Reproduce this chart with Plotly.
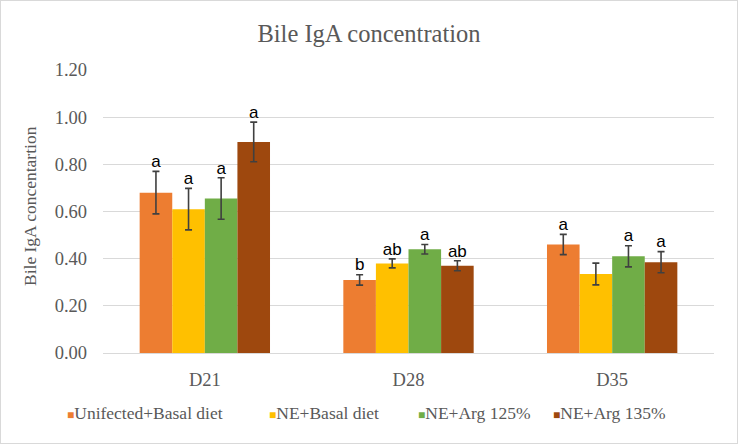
import plotly.graph_objects as go

# data
days = ["D21", "D28", "D35"]
groups = ["Unifected+Basal diet", "NE+Basal diet", "NE+Arg 125%", "NE+Arg 135%"]
colors = ["#ED7D31", "#FFC000", "#70AD47", "#9E480E"]

unifected = [0.68, 0.31, 0.46]
ne_basal = [0.61, 0.38, 0.335]
ne_arg125 = [0.655, 0.44, 0.41]
ne_arg135 = [0.895, 0.37, 0.385]

unifected_err = [0.09, 0.022, 0.043]
ne_basal_err = [0.088, 0.019, 0.046]
ne_arg125_err = [0.088, 0.02, 0.045]
ne_arg135_err = [0.084, 0.021, 0.045]

unifected_sig = ["a", "b", "a"]
ne_basal_sig = ["a", "ab", ""]
ne_arg125_sig = ["a", "a", "a"]
ne_arg135_sig = ["a", "ab", "a"]

values = [unifected, ne_basal, ne_arg125, ne_arg135]
errors = [unifected_err, ne_basal_err, ne_arg125_err, ne_arg135_err]
letters = [unifected_sig, ne_basal_sig, ne_arg125_sig, ne_arg135_sig]

GRAY = "#595959"
SERIF = "Liberation Serif"
bar_w = 0.16  # width of one bar in category units

# plot area in pixels
W, H = 738, 444
L, R, T, B = 103, 24, 70, 91
PW, PH = W - L - R, H - T - B

fig = go.Figure()

for j, name in enumerate(groups):
    xs = [i + (j - 1.5) * bar_w for i in range(len(days))]
    fig.add_trace(go.Bar(
        name=name,
        x=xs,
        y=values[j],
        width=bar_w,
        marker=dict(color=colors[j], line=dict(width=0)),
        error_y=dict(type="data", array=errors[j], color="#404040",
                     thickness=1.6, width=3.5),
        showlegend=False,
    ))
    # significance letters above the error bars
    fig.add_trace(go.Scatter(
        x=xs,
        y=[v + e for v, e in zip(values[j], errors[j])],
        mode="text",
        text=letters[j],
        textposition="top center",
        textfont=dict(family="Liberation Sans", size=17, color="#000000"),
        showlegend=False,
        hoverinfo="skip",
    ))

# legend drawn as annotations: small square + label, Excel-style
legend_px = [65, 267, 416, 551]
for name, c, px in zip(groups, colors, legend_px):
    fig.add_annotation(
        xref="paper", yref="paper",
        x=(px - L) / PW, y=-(413 - (H - B)) / PH,
        xanchor="left", yanchor="middle",
        text=f"<span style='color:{c};font-size:12px'>■</span>{name}",
        showarrow=False,
        font=dict(family=SERIF, size=17.5, color=GRAY),
    )

# y axis title as a rotated annotation (sits further left than standoff allows)
fig.add_annotation(
    xref="paper", yref="paper",
    x=(30 - L) / PW, y=(H - B - 206) / PH,
    xanchor="center", yanchor="middle",
    text="Bile IgA concentartion", textangle=-90,
    showarrow=False,
    font=dict(family=SERIF, size=17.5, color=GRAY),
)

fig.update_layout(
    width=W,
    height=H,
    margin=dict(l=L, r=R, t=T, b=B),
    paper_bgcolor="white",
    plot_bgcolor="white",
    barmode="overlay",
    showlegend=False,
    title=dict(text="Bile IgA concentration", x=0.5, xanchor="center",
               y=1 - 33 / H, yanchor="middle",
               font=dict(family=SERIF, size=24.5, color=GRAY)),
    font=dict(family=SERIF, color=GRAY),
    shapes=[dict(type="rect", xref="paper", yref="paper",
                 x0=-L / PW, x1=1 + R / PW, y0=-B / PH, y1=1 + T / PH,
                 line=dict(color="#d9d9d9", width=2))],
)

fig.update_xaxes(
    range=[-0.5, 2.5],
    tickvals=list(range(len(days))),
    ticktext=days,
    showgrid=False,
    zeroline=False,
    showline=False,
    ticks="",
    ticklabelstandoff=13,
    tickfont=dict(family=SERIF, size=18.5, color=GRAY),
)

fig.update_yaxes(
    range=[0, 1.2],
    dtick=0.2,
    tickformat=".2f",
    showgrid=True,
    gridcolor="#d9d9d9",
    gridwidth=1,
    zeroline=True,
    zerolinecolor="#d9d9d9",
    zerolinewidth=1,
    showline=False,
    ticks="",
    ticklabelstandoff=15,
    tickfont=dict(family=SERIF, size=18.5, color=GRAY),
)

fig.write_html("out.html", config={"displayModeBar": False},
               post_script="document.body.style.margin='0px';")
